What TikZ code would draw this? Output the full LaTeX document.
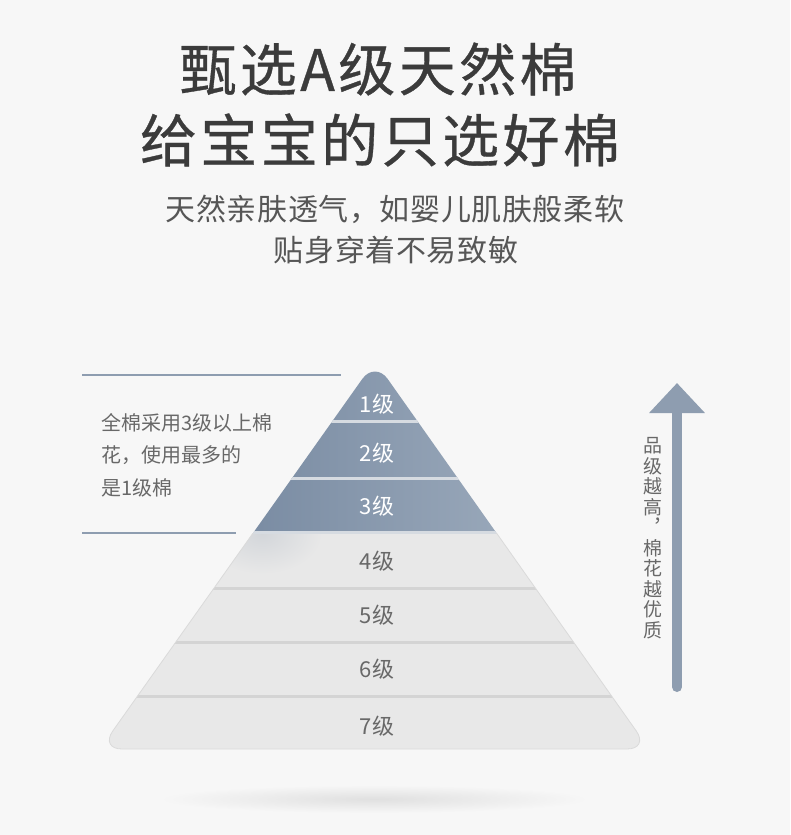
\documentclass[tikz,border=0pt]{standalone}
\usepackage{fontspec}
\setmainfont{Noto Sans CJK SC}
\newfontfamily\titlefont[LetterSpace=6,FakeBold=0.6]{Noto Sans CJK SC}
\newfontfamily\subfont[LetterSpace=2]{Noto Sans CJK SC}
\usetikzlibrary{arrows.meta}

\definecolor{pagebg}{HTML}{F7F7F7}
\definecolor{slate}{HTML}{8E9DB0}
\definecolor{slatedark}{HTML}{7A8CA3}
\definecolor{slatelight}{HTML}{98A7B9}
\definecolor{slateseam}{HTML}{D6DBE1}
\definecolor{cotton}{HTML}{E8E8E8}
\definecolor{cottonshade}{HTML}{D3D6DA}
\definecolor{seam}{HTML}{D4D4D4}
\definecolor{rim}{HTML}{DADADA}
\definecolor{floorshade}{HTML}{E0E0E0}
\definecolor{inkdark}{HTML}{3B3B3B}
\definecolor{inkmid}{HTML}{565656}
\definecolor{inklight}{HTML}{686868}

\tikzset{
  headline/.style={text=inkdark, inner sep=0pt,
    font=\titlefont\fontsize{57}{57}\selectfont},
  subline/.style={text=inkmid, inner sep=0pt,
    font=\subfont\fontsize{30}{30}\selectfont},
  grade/.style={inner sep=0pt, font=\fontsize{22}{22}\selectfont},
  note/.style={text=inklight, inner sep=0pt, align=left,
    font=\fontsize{20}{32.5}\selectfont},
  rule/.style={draw=slate, line width=2pt},
}

\begin{document}
\begin{tikzpicture}[x=1pt,y=-1pt]
  \fill[pagebg] (0,0) rectangle (790,835);
  \useasboundingbox (0,0) rectangle (790,835);

  % headline
  \node[headline] (headA) at (378,69) {甄选A级天然棉};
  \node[headline] (headB) at (380,140) {给宝宝的只选好棉};
  \node[subline] (subA) at (395,209) {天然亲肤透气，如婴儿肌肤般柔软};
  \node[subline] (subB) at (396,250) {贴身穿着不易致敏};

  % floor shadow
  \shade[inner color=floorshade, outer color=pagebg]
    (374,799) ellipse [x radius=215pt, y radius=14pt];

  % pyramid
  \coordinate (apex) at (375,361);
  \coordinate (baseL) at (100,749);
  \coordinate (baseR) at (649,749);
  \coordinate (baseM) at (375,749);
  \begin{scope}
    \clip[rounded corners=22pt] (baseM) -- (baseR) -- (apex) -- (baseL) -- cycle;
    \shade[left color=slatedark, right color=slatelight] (250,350) rectangle (500,532);
    \fill[cotton] (80,532) rectangle (670,760);
    \begin{scope}
      \clip (80,532) rectangle (670,588);
      \shade[inner color=cottonshade, outer color=cotton]
        (262,534) ellipse [x radius=60pt, y radius=40pt];
    \end{scope}
    \foreach \y in {421,478,532}
      \draw[slateseam, line width=3pt] (80,\y) -- (670,\y);
    \foreach \y in {588,642,696}
      \draw[seam, line width=3pt] (80,\y) -- (670,\y);
  \end{scope}
  \begin{scope}
    \clip (60,533) rectangle (690,770);
    \draw[rim, line width=0.8pt, rounded corners=22pt]
      (baseM) -- (baseR) -- (apex) -- (baseL) -- cycle;
  \end{scope}

  \foreach \n/\y in {1/404,2/453,3/506}
    \node[grade, text=white] (grade\n) at (377,\y) {\n{}级};
  \foreach \n/\y in {4/561,5/615,6/669,7/726}
    \node[grade, text=inklight] (grade\n) at (377,\y) {\n{}级};

  % left note
  \coordinate (ruleTopL) at (82,375);
  \coordinate (ruleTopR) at (341,375);
  \coordinate (ruleBotL) at (82,533);
  \coordinate (ruleBotR) at (236,533);
  \draw[rule] (ruleTopL) -- (ruleTopR);
  \draw[rule] (ruleBotL) -- (ruleBotR);
  \node[note, anchor=west] (note) at (101,455)
    {全棉采用3级以上棉\\花，使用最多的\\是1级棉};

  % quality arrow
  \coordinate (arrowFoot) at (677,687);
  \coordinate (arrowTip) at (677,383);
  \draw[slate, line width=10pt, line cap=round,
    -{Triangle[length=30pt 0 0, width=54pt 0 0]}] (arrowFoot) -- (arrowTip);
  \node[note, align=center, font=\fontsize{19}{20.5}\selectfont] (motto) at (653,538)
    {品\\级\\越\\高\\︐\\棉\\花\\越\\优\\质};
\end{tikzpicture}
\end{document}
